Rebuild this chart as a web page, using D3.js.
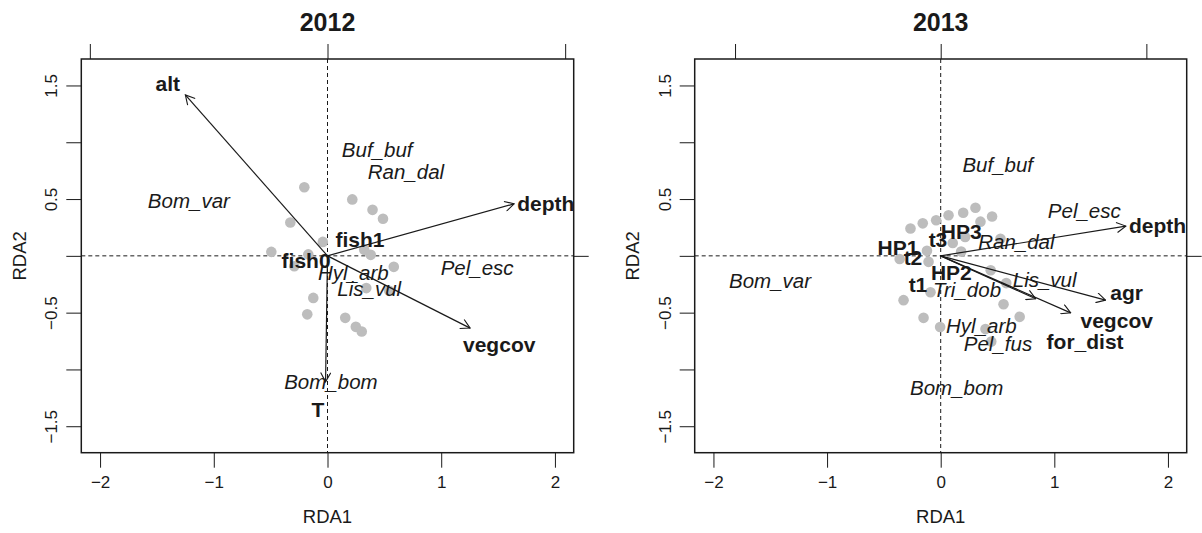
<!DOCTYPE html>
<html>
<head>
<meta charset="utf-8">
<script src="https://cdn.jsdelivr.net/npm/d3@7"></script>
<style>
  body { margin: 0; background: #fff; }
  svg text { font-family: "Liberation Sans", Arial, sans-serif; fill: #1a1a1a; }
</style>
</head>
<body>
<svg id="chart" width="1202" height="533"></svg>
<script>
const xTicks = [-2, -1, 0, 1, 2];
const yTicks = [-1.5, -1, -0.5, 0, 0.5, 1, 1.5];
const yTickLabels = [-1.5, -0.5, 0.5, 1.5];

// 2012
const sites2012 = [
  [-0.204, 0.604], [0.218, 0.497], [0.396, 0.405], [0.488, 0.326], [-0.327, 0.293],
  [-0.041, 0.123], [-0.494, 0.035], [-0.169, 0.013], [0.323, 0.053], [0.380, 0.009],
  [-0.292, -0.092], [0.583, -0.097], [0.341, -0.284], [0.543, -0.308], [-0.125, -0.370],
  [-0.178, -0.515], [0.156, -0.546], [0.249, -0.625], [0.301, -0.666]
];
const speciesNames2012 = ["Buf_buf", "Ran_dal", "Bom_var", "Pel_esc", "Hyl_arb", "Lis_vul", "Bom_bom"];
const speciesScores2012 = [
  [0.437, 0.936], [0.690, 0.741], [-1.219, 0.487], [1.316, -0.103],
  [0.227, -0.150], [0.367, -0.291], [0.030, -1.106]
];
const envNames2012 = ["alt", "depth", "vegcov", "T"];
const envTips2012 = [[-1.250, 1.417], [1.641, 0.458], [1.254, -0.636], [-0.017, -1.109]];
const envLabels2012 = [[-1.405, 1.514], [1.920, 0.460], [1.510, -0.785], [-0.084, -1.356]];
const factorNames2012 = ["fish1", "fish0"];
const factorScores2012 = [[0.285, 0.141], [-0.188, -0.044]];
const topTicks2012 = [-2.09, 0, 2.09];

// 2013
const sites2013 = [
  [0.306, 0.423], [0.198, 0.379], [0.069, 0.358], [0.452, 0.346], [-0.040, 0.313],
  [-0.158, 0.286], [-0.266, 0.241], [0.350, 0.301], [0.215, 0.167], [0.106, 0.113],
  [0.526, 0.151], [-0.121, 0.044], [0.180, 0.038], [-0.361, -0.028], [-0.107, -0.053],
  [0.440, -0.127], [0.577, -0.240], [-0.090, -0.321], [-0.327, -0.390], [0.553, -0.426],
  [0.695, -0.537], [-0.151, -0.546], [-0.005, -0.627], [0.394, -0.645], [0.445, -0.755]
];
const speciesNames2013 = ["Buf_buf", "Pel_esc", "Ran_dal", "Lis_vul", "Tri_dob", "Bom_var", "Hyl_arb", "Pel_fus", "Bom_bom"];
const speciesScores2013 = [
  [0.502, 0.801], [1.264, 0.397], [0.666, 0.126], [0.915, -0.211], [0.232, -0.299],
  [-1.502, -0.223], [0.358, -0.616], [0.504, -0.775], [0.141, -1.160]
];
const envNames2013 = ["depth", "agr", "vegcov", "for_dist"];
const envTips2013 = [[1.629, 0.262], [1.451, -0.390], [1.144, -0.502], [0.836, -0.378]];
const envLabels2013 = [[1.908, 0.262], [1.637, -0.321], [1.549, -0.570], [1.271, -0.755]];
const factorNames2013 = ["HP3", "t3", "HP1", "t2", "HP2", "t1"];
const factorScores2013 = [[0.180, 0.217], [-0.024, 0.141], [-0.376, 0.068], [-0.244, -0.020], [0.094, -0.152], [-0.200, -0.255]];
const topTicks2013 = [-1.81, 0, 1.81];

// ---- layout ----
const xLim = [-2.165, 2.165];
const yLim = [-1.733, 1.733];
const boxTop = 59, boxBottom = 452.7;
const tickLen = 15;
const ink = "#1a1a1a";

const panels = [
  { title: "2012", left: 81.3, right: 573.7, sites: sites2012,
    spNames: speciesNames2012, spScores: speciesScores2012,
    envNames: envNames2012, envTips: envTips2012, envLabels: envLabels2012,
    facNames: factorNames2012, facScores: factorScores2012, topTicks: topTicks2012 },
  { title: "2013", left: 694.7, right: 1186.7, sites: sites2013,
    spNames: speciesNames2013, spScores: speciesScores2013,
    envNames: envNames2013, envTips: envTips2013, envLabels: envLabels2013,
    facNames: factorNames2013, facScores: factorScores2013, topTicks: topTicks2013 }
];

const svg = d3.select("#chart");

// open arrow head like R's arrows()
svg.append("defs").append("marker")
  .attr("id", "head")
  .attr("viewBox", "0 0 12 12")
  .attr("refX", 11).attr("refY", 6)
  .attr("markerWidth", 11).attr("markerHeight", 11)
  .attr("markerUnits", "userSpaceOnUse")
  .attr("orient", "auto")
  .append("path")
  .attr("d", "M1,0.5 L11,6 L1,11.5")
  .attr("fill", "none")
  .attr("stroke", ink)
  .attr("stroke-width", 1.2);

panels.forEach(p => drawPanel(p));

function drawPanel(p) {
  const x = d3.scaleLinear().domain(xLim).range([p.left, p.right]);
  const y = d3.scaleLinear().domain(yLim).range([boxBottom, boxTop]);
  const g = svg.append("g");

  // title
  g.append("text")
    .attr("x", (p.left + p.right) / 2)
    .attr("y", 22)
    .attr("dy", "0.35em")
    .attr("text-anchor", "middle")
    .attr("font-size", 25)
    .attr("font-weight", "bold")
    .text(p.title);

  // bottom axis
  const xAxisG = g.append("g")
    .attr("transform", `translate(0,${boxBottom})`)
    .call(d3.axisBottom(x).tickValues(xTicks).tickFormat(d3.format("d"))
      .tickSize(tickLen).tickPadding(8).tickSizeOuter(0));
  xAxisG.select(".domain").remove();
  xAxisG.selectAll("text").attr("font-size", 17).attr("fill", ink);
  xAxisG.selectAll("line").attr("stroke", ink);

  // left axis, rotated labels, only every other one labelled
  const yAxisG = g.append("g")
    .attr("transform", `translate(${p.left},0)`)
    .call(d3.axisLeft(y).tickValues(yTicks).tickSize(tickLen).tickSizeOuter(0)
      .tickFormat(d => yTickLabels.includes(d) ? d3.format(".1f")(d) : ""));
  yAxisG.select(".domain").remove();
  yAxisG.selectAll("line").attr("stroke", ink);
  yAxisG.selectAll("text")
    .attr("font-size", 17)
    .attr("fill", ink)
    .attr("text-anchor", "middle")
    .attr("transform", "rotate(-90)")
    .attr("x", 0)
    .attr("y", -30)
    .attr("dy", "0.35em");

  // top axis (unlabelled species scale)
  const topAxisG = g.append("g")
    .attr("transform", `translate(0,${boxTop})`)
    .call(d3.axisTop(x).tickValues(p.topTicks).tickSize(tickLen).tickFormat("").tickSizeOuter(0));
  topAxisG.select(".domain").remove();
  topAxisG.selectAll("line").attr("stroke", ink);

  // right axis, only its zero tick falls inside
  const rightAxisG = g.append("g")
    .attr("transform", `translate(${p.right},0)`)
    .call(d3.axisRight(y).tickValues([0]).tickSize(tickLen).tickFormat("").tickSizeOuter(0));
  rightAxisG.select(".domain").remove();
  rightAxisG.selectAll("line").attr("stroke", ink);

  // axis titles
  g.append("text")
    .attr("x", (p.left + p.right) / 2)
    .attr("y", 517)
    .attr("dy", "0.35em")
    .attr("text-anchor", "middle")
    .attr("font-size", 18.5)
    .text("RDA1");
  g.append("text")
    .attr("transform", `translate(${p.left - 62},${(boxTop + boxBottom) / 2}) rotate(-90)`)
    .attr("dy", "0.35em")
    .attr("text-anchor", "middle")
    .attr("font-size", 18.5)
    .text("RDA2");

  // zero lines
  g.append("line")
    .attr("x1", x(0)).attr("x2", x(0))
    .attr("y1", boxTop).attr("y2", boxBottom)
    .attr("stroke", ink).attr("stroke-dasharray", "4,3");
  g.append("line")
    .attr("x1", p.left).attr("x2", p.right)
    .attr("y1", y(0)).attr("y2", y(0))
    .attr("stroke", ink).attr("stroke-dasharray", "4,3");

  // sites
  g.append("g").selectAll("circle")
    .data(p.sites)
    .join("circle")
    .attr("cx", d => x(d[0]))
    .attr("cy", d => y(d[1]))
    .attr("r", 5.3)
    .attr("fill", "#bdbdbd");

  // species
  g.append("g").selectAll("text")
    .data(p.spNames)
    .join("text")
    .attr("x", (d, i) => x(p.spScores[i][0]))
    .attr("y", (d, i) => y(p.spScores[i][1]))
    .attr("dy", "0.35em")
    .attr("text-anchor", "middle")
    .attr("font-size", 20.5)
    .attr("font-style", "italic")
    .attr("fill", "#222")
    .text(d => d);

  // environmental arrows
  g.append("g").selectAll("line")
    .data(p.envTips)
    .join("line")
    .attr("x1", x(0)).attr("y1", y(0))
    .attr("x2", d => x(d[0]))
    .attr("y2", d => y(d[1]))
    .attr("stroke", ink)
    .attr("stroke-width", 1.2)
    .attr("marker-end", "url(#head)");

  g.append("g").selectAll("text")
    .data(p.envNames)
    .join("text")
    .attr("x", (d, i) => x(p.envLabels[i][0]))
    .attr("y", (d, i) => y(p.envLabels[i][1]))
    .attr("dy", "0.35em")
    .attr("text-anchor", "middle")
    .attr("font-size", 21)
    .attr("font-weight", "bold")
    .text(d => d);

  // factor centroids
  g.append("g").selectAll("text")
    .data(p.facNames)
    .join("text")
    .attr("x", (d, i) => x(p.facScores[i][0]))
    .attr("y", (d, i) => y(p.facScores[i][1]))
    .attr("dy", "0.35em")
    .attr("text-anchor", "middle")
    .attr("font-size", 21)
    .attr("font-weight", "bold")
    .text(d => d);

  // frame
  g.append("rect")
    .attr("x", p.left).attr("y", boxTop)
    .attr("width", p.right - p.left)
    .attr("height", boxBottom - boxTop)
    .attr("fill", "none")
    .attr("stroke", ink)
    .attr("stroke-width", 1.5);
}
</script>
</body>
</html>
